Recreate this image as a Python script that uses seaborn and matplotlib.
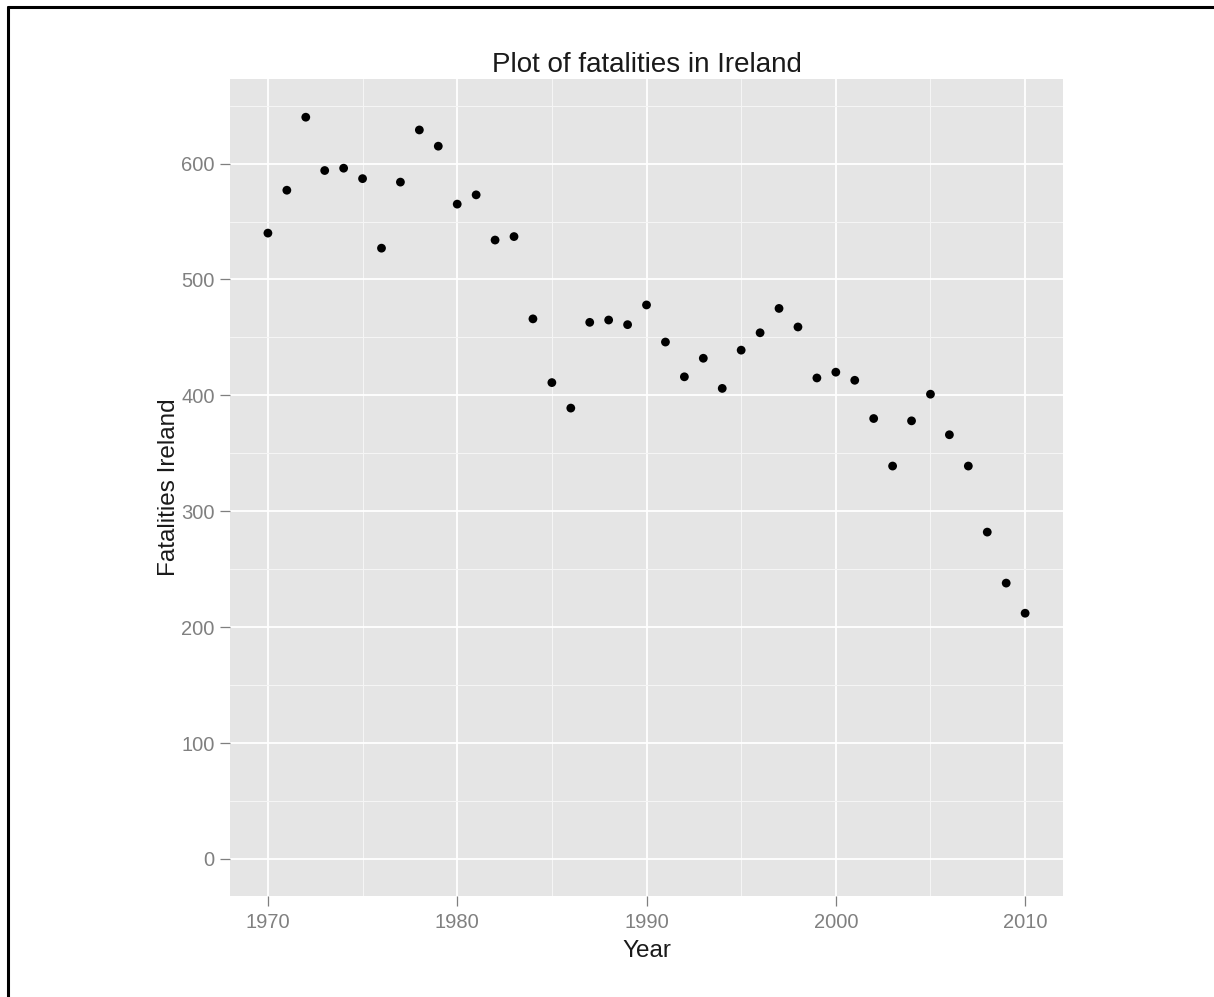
"""
Scatter of road fatalities in Ireland per year, ggplot-like look.
"""

import matplotlib
matplotlib.use("Agg")
import matplotlib.pyplot as plt
import pandas as pd
import seaborn as sns
from matplotlib.lines import Line2D
from matplotlib.ticker import MultipleLocator


# ──────────────────────────────────────────────
# Data
# ──────────────────────────────────────────────

years = list(range(1970, 2011))
fatalities = [540, 577, 640, 594, 596, 587, 527, 584, 629, 615,
              565, 573, 534, 537, 466, 411, 389, 463, 465, 461,
              478, 446, 416, 432, 406, 439, 454, 475, 459, 415,
              420, 413, 380, 339, 378, 401, 366, 339, 282, 238,
              212]
x_ticks = [1970, 1980, 1990, 2000, 2010]
y_ticks = [0, 100, 200, 300, 400, 500, 600]

df = pd.DataFrame({"Year": years, "Fatalities Ireland": fatalities})


# ──────────────────────────────────────────────
# Style
# ──────────────────────────────────────────────

sns.set_style("darkgrid", {
    "axes.facecolor": "#E5E5E5",
    "grid.color": "white",
    "axes.edgecolor": "none",
})
plt.rcParams["font.family"] = ["Liberation Sans", "DejaVu Sans"]

fig = plt.figure(figsize=(12.14, 9.97), dpi=100)
fig.patch.set_facecolor("white")
ax = fig.add_axes([0.1895, 0.1013, 0.6861, 0.8195])

sns.scatterplot(data=df, x="Year", y="Fatalities Ireland", ax=ax,
                color="black", s=40, edgecolor="none", zorder=3)

ax.set_xlim(1968, 2012)
ax.set_ylim(-32, 673)
ax.set_xticks(x_ticks)
ax.set_yticks(y_ticks)
ax.xaxis.set_minor_locator(MultipleLocator(5))
ax.yaxis.set_minor_locator(MultipleLocator(50))
ax.grid(which="major", color="white", linewidth=1.3)
ax.grid(which="minor", color="#F5F5F5", linewidth=0.8)
ax.set_axisbelow(True)

ax.tick_params(axis="both", which="major", length=7, width=0.9,
               color="#7F7F7F", labelcolor="#808080", labelsize=14.5,
               bottom=True, left=True)
ax.tick_params(axis="y", pad=4)
ax.tick_params(axis="x", pad=5)
ax.tick_params(which="minor", length=0)
for sp in ax.spines.values():
    sp.set_visible(False)

ax.set_xlabel("Year", fontsize=17.5, color="#1A1A1A", labelpad=6)
ax.set_ylabel("Fatalities Ireland", fontsize=17.5, color="#1A1A1A", labelpad=1)
ax.set_title("Plot of fatalities in Ireland", fontsize=20, color="#1A1A1A", pad=5)

# frame fragments at the top and left of the picture
fig.add_artist(Line2D([0.0066, 0.0066], [0, 0.9933], color="black",
                      linewidth=2.2, transform=fig.transFigure))
fig.add_artist(Line2D([0.0066, 1.0], [0.9933, 0.9933], color="black",
                      linewidth=2.2, transform=fig.transFigure))

fig.savefig("out.png", dpi=100)
